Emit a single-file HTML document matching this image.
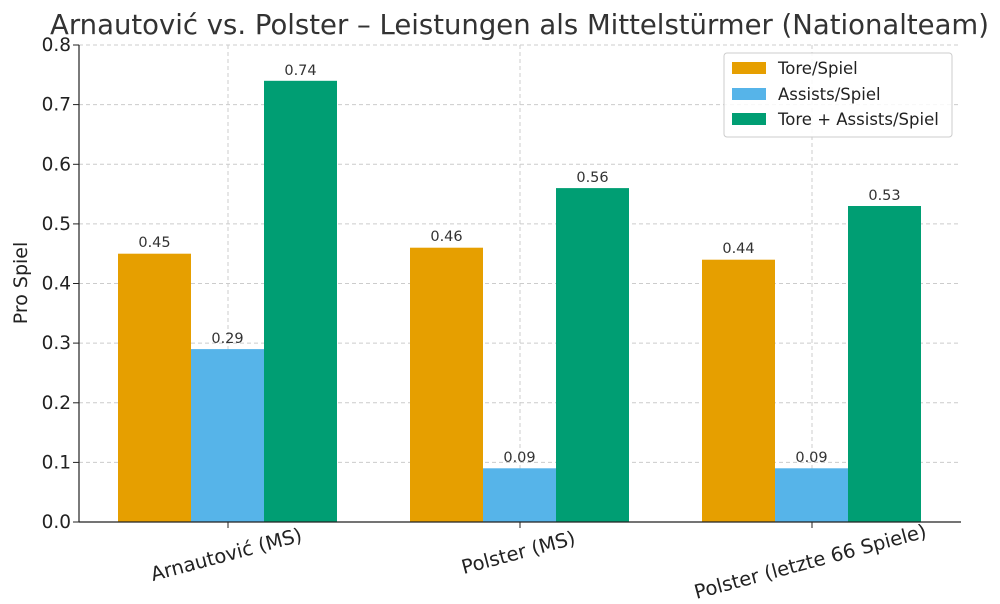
<!DOCTYPE html>
<html><head><meta charset="utf-8"><style>
body{margin:0;background:#fff;}
svg{display:block;font-family:"DejaVu Sans","Liberation Sans",sans-serif;}
</style></head><body>
<svg width="1000" height="604" xmlns="http://www.w3.org/2000/svg">
<rect width="1000" height="604" fill="#fff"/>
<text x="519.5" y="34" font-size="27.5" text-anchor="middle" fill="#333">Arnautović vs. Polster – Leistungen als Mittelstürmer (Nationalteam)</text>
<g stroke="#ccc" stroke-width="1" stroke-dasharray="4,3">
<line x1="79" x2="961" y1="462.4" y2="462.4"/>
<line x1="79" x2="961" y1="402.8" y2="402.8"/>
<line x1="79" x2="961" y1="343.1" y2="343.1"/>
<line x1="79" x2="961" y1="283.5" y2="283.5"/>
<line x1="79" x2="961" y1="223.9" y2="223.9"/>
<line x1="79" x2="961" y1="164.3" y2="164.3"/>
<line x1="79" x2="961" y1="104.6" y2="104.6"/>
<line x1="79" x2="961" y1="45" y2="45"/>
<line x1="228" x2="228" y1="45" y2="522"/>
<line x1="520" x2="520" y1="45" y2="522"/>
<line x1="812" x2="812" y1="45" y2="522"/>
</g>
<g>
<rect x="118" y="253.7" width="73" height="268.3" fill="#E69F00"/>
<rect x="191" y="349.1" width="73" height="172.9" fill="#56B4E9"/>
<rect x="264" y="80.8" width="73" height="441.2" fill="#009E73"/>
<rect x="410" y="247.7" width="73" height="274.3" fill="#E69F00"/>
<rect x="483" y="468.3" width="73" height="53.7" fill="#56B4E9"/>
<rect x="556" y="188.1" width="73" height="333.9" fill="#009E73"/>
<rect x="702" y="259.7" width="73" height="262.3" fill="#E69F00"/>
<rect x="775" y="468.3" width="73" height="53.7" fill="#56B4E9"/>
<rect x="848" y="206" width="73" height="316" fill="#009E73"/>
</g>
<g font-size="14.5" fill="#333" text-anchor="middle">
<text x="154.5" y="247">0.45</text>
<text x="227.5" y="343">0.29</text>
<text x="300.5" y="75">0.74</text>
<text x="446.5" y="241">0.46</text>
<text x="519.5" y="462">0.09</text>
<text x="592.5" y="182">0.56</text>
<text x="738.5" y="253">0.44</text>
<text x="811.5" y="462">0.09</text>
<text x="884.5" y="200">0.53</text>
</g>
<line x1="79" x2="961" y1="522" y2="522" stroke="#222" stroke-width="1.2"/>
<line x1="79" x2="79" y1="45" y2="522" stroke="#222" stroke-width="1.2"/>
<g stroke="#222"><line x1="73" x2="79" y1="522" y2="522"/><line x1="73" x2="79" y1="462.4" y2="462.4"/><line x1="73" x2="79" y1="402.8" y2="402.8"/><line x1="73" x2="79" y1="343.1" y2="343.1"/><line x1="73" x2="79" y1="283.5" y2="283.5"/><line x1="73" x2="79" y1="223.9" y2="223.9"/><line x1="73" x2="79" y1="164.3" y2="164.3"/><line x1="73" x2="79" y1="104.6" y2="104.6"/><line x1="73" x2="79" y1="45" y2="45"/>
<line x1="228" x2="228" y1="522" y2="528"/><line x1="520" x2="520" y1="522" y2="528"/><line x1="812" x2="812" y1="522" y2="528"/></g>
<g font-size="18.5" fill="#222" text-anchor="end">
<text x="71" y="528">0.0</text><text x="71" y="468.4">0.1</text><text x="71" y="408.8">0.2</text><text x="71" y="349.1">0.3</text><text x="71" y="289.5">0.4</text><text x="71" y="229.9">0.5</text><text x="71" y="170.3">0.6</text><text x="71" y="110.6">0.7</text><text x="71" y="51">0.8</text>
</g>
<text transform="translate(27,283) rotate(-90)" font-size="19" fill="#222" text-anchor="middle">Pro Spiel</text>
<g font-size="19.5" fill="#222" text-anchor="middle">
<text transform="translate(228,561) rotate(-15)">Arnautović (MS)</text>
<text transform="translate(520,559) rotate(-15)">Polster (MS)</text>
<text transform="translate(812,568) rotate(-15)">Polster (letzte 66 Spiele)</text>
</g>
<rect x="724" y="53" width="228" height="84" rx="3" fill="#fff" fill-opacity="0.85" stroke="#ccc"/>
<rect x="732" y="62" width="34" height="12" fill="#E69F00"/>
<rect x="732" y="88" width="34" height="12" fill="#56B4E9"/>
<rect x="732" y="113" width="34" height="12" fill="#009E73"/>
<g font-size="16.5" fill="#222">
<text x="778" y="74">Tore/Spiel</text>
<text x="778" y="100">Assists/Spiel</text>
<text x="778" y="125">Tore + Assists/Spiel</text>
</g>
</svg>
</body></html>
